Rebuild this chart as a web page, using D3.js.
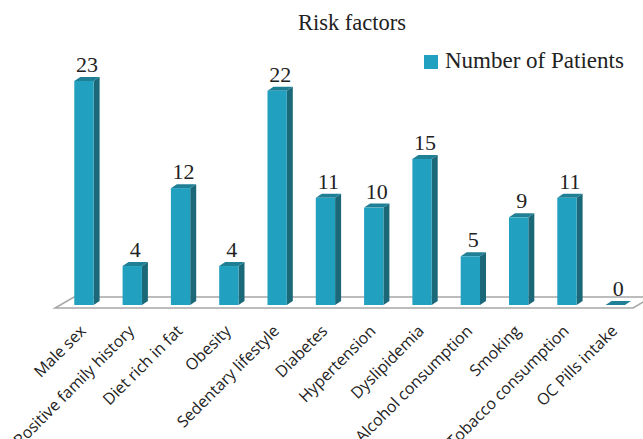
<!DOCTYPE html>
<html lang="en">
<head>
<meta charset="UTF-8">
<title>Risk factors</title>
<script src="https://d3js.org/d3.v7.min.js"></script>
<style>
  body { margin: 0; background: #fff; }
  .title, .value, .legend text { font-family: "Liberation Serif", serif; fill: #222; }
  .xlab { font-family: "Open Sans", sans-serif; font-size: 16px; fill: #222; }
</style>
</head>
<body>
<svg width="643" height="439"></svg>
<script>
const categories = ["Male sex", "Positive family history", "Diet rich in fat", "Obesity",
  "Sedentary lifestyle", "Diabetes", "Hypertension", "Dyslipidemia",
  "Alcohol consumption", "Smoking", "Tobacco consumption", "OC Pills intake"];
const patients = [23, 4, 12, 4, 22, 11, 10, 15, 5, 9, 11, 0];
const seriesName = "Number of Patients";

const svg = d3.select("svg");
const frontCol = "#21a0c0", sideCol = "#1b6878", topCol = "#1f7f95";
const dx = 6, dy = 4;          // bar depth
const fdx = 19, fdy = 11;      // floor depth

const x = d3.scaleBand().domain(categories).range([59.8, 639.4])
  .paddingInner(0.6).paddingOuter(0.3);
const y = d3.scaleLinear().domain([0, 23]).range([305, 81]);

// floor
const fy = y(0) + 3, fx0 = 55, fx1 = 633;
svg.append("path")
  .attr("d", `M${fx0},${fy}L${fx1},${fy}L${fx1 + fdx},${fy - fdy}L${fx0 + fdx},${fy - fdy}Z`)
  .attr("fill", "#fff").attr("stroke", "#a6a6a6").attr("stroke-width", 1.5);

const g = svg.append("g").selectAll("g").data(categories).join("g");
const bw = x.bandwidth();

g.append("path").attr("fill", sideCol)
  .attr("d", (d, i) => {
    const x1 = x(d) + bw, t = y(patients[i]), b = y(0);
    return `M${x1},${b}L${x1 + dx},${b - dy}L${x1 + dx},${t - dy}L${x1},${t}Z`;
  });
g.append("path").attr("fill", topCol)
  .attr("d", (d, i) => {
    const x0 = x(d), t = y(patients[i]);
    return `M${x0},${t}L${x0 + bw},${t}L${x0 + bw + dx},${t - dy}L${x0 + dx},${t - dy}Z`;
  });
g.append("rect").attr("fill", frontCol)
  .attr("x", d => x(d)).attr("width", bw)
  .attr("y", (d, i) => y(patients[i]))
  .attr("height", (d, i) => y(0) - y(patients[i]));

g.append("text").attr("class", "value")
  .attr("x", d => x(d) + bw / 2 + dx / 2)
  .attr("y", (d, i) => y(patients[i]) - 9)
  .attr("text-anchor", "middle").attr("font-size", 22)
  .text((d, i) => patients[i]);

// category labels
svg.append("g").selectAll("text").data(categories).join("text")
  .attr("class", "xlab")
  .attr("text-anchor", "end")
  .attr("transform", d => `translate(${x(d) + bw / 2 + 3},${332}) rotate(-45)`)
  .text(d => d);

// title
svg.append("text").attr("class", "title")
  .attr("x", 352).attr("y", 30).attr("text-anchor", "middle")
  .attr("font-size", 22.5).text("Risk factors");

// legend
const lg = svg.append("g").attr("class", "legend");
lg.append("rect").attr("x", 424).attr("y", 55).attr("width", 14).attr("height", 14).attr("fill", frontCol);
lg.append("text").attr("x", 445).attr("y", 68).attr("font-size", 23).text(seriesName);
</script>
</body>
</html>
